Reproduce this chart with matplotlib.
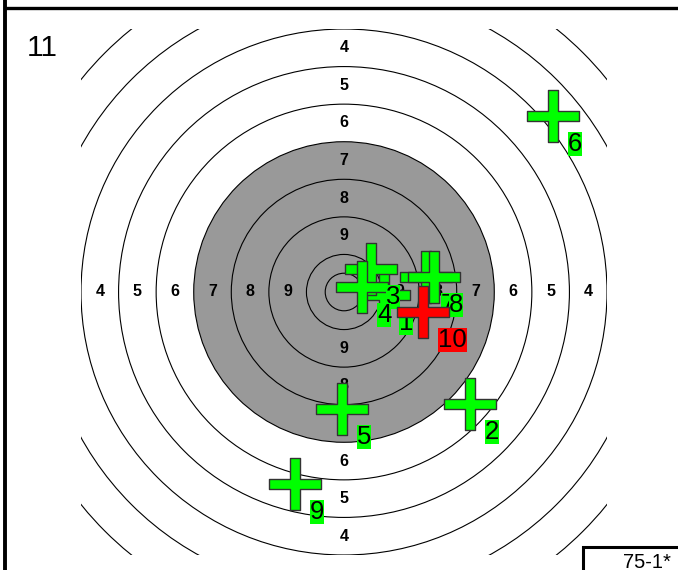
import matplotlib
matplotlib.use("Agg")
import matplotlib.pyplot as plt
from matplotlib.path import Path
from matplotlib.patches import Circle, Rectangle
from matplotlib.lines import Line2D

plt.rcParams['font.family'] = ['Liberation Sans', 'DejaVu Sans']

# ---------------- data ----------------
shot_ids = ["1", "2", "3", "4", "5", "6", "7", "8", "9", "10"]
shot_x = [1.07, 3.36, 0.73, 0.49, -0.05, 5.57, 2.19, 2.40, -1.30, 2.11]
shot_y = [-0.09, -2.98, 0.61, 0.13, -3.11, 4.68, 0.40, 0.40, -5.11, -0.53]
ring_values = [9, 8, 7, 6, 5, 4]
ring_radii = [0.5, 1, 2, 3, 4, 5, 6, 7, 8, 9]
black_radius = 4
series_label = "11"
target_code = "75-1*"

# ---------------- figure ----------------
W, H = 678, 570
fig = plt.figure(figsize=(W / 100, H / 100), dpi=100)
fig.patch.set_facecolor('white')

# axes square covering the outer ring-4 boundary
ax_l, ax_top, ax_size = 81, 29, 526
ax = fig.add_axes([ax_l / W, (H - ax_top - ax_size) / H, ax_size / W, ax_size / H])
ax.set_xlim(-7, 7)
ax.set_ylim(-7, 7)
ax.set_aspect('equal')
ax.axis('off')

# black (gray) area
ax.add_patch(Circle((0, 0), black_radius, facecolor='#999999', edgecolor='none', zorder=1))
for r in ring_radii:
    ax.add_patch(Circle((0, 0), r, facecolor='none', edgecolor='black', lw=0.8, zorder=2))

# ring labels on four sides
for k, v in enumerate(ring_values):
    r = k + 1.5
    for dx, dy in [(-1, 0), (1, 0), (0, 1), (0, -1)]:
        ax.text(dx * r, dy * r, str(v), ha='center', va='center', fontsize=11.5,
                fontweight='bold', color='black', zorder=3)

# plus-shaped marker
t = 0.173
plus_verts = [(-t, 1), (t, 1), (t, t), (1, t), (1, -t), (t, -t), (t, -1), (-t, -1),
              (-t, -t), (-1, -t), (-1, t), (-t, t), (-t, 1)]
plus_marker = Path(plus_verts, closed=True)

n = len(shot_ids)
for i, (sid, x, y) in enumerate(zip(shot_ids, shot_x, shot_y)):
    last = (i == n - 1)
    col = '#ff0000' if last else '#00ff00'
    zc = 8 if last else 5
    zl = 9 if last else 6
    ax.plot([x], [y], marker=plus_marker, markersize=37.5, markerfacecolor=col,
            markeredgecolor='#333333', markeredgewidth=1.0, linestyle='none', zorder=zc)
    ax.annotate(sid, (x, y), xytext=(10.5, -20), textcoords='offset points',
                ha='left', va='center', fontsize=18.5, color='black',
                bbox=dict(boxstyle='square,pad=0', facecolor=col, edgecolor='none'),
                zorder=zl)

# ---------------- frame decorations ----------------
fig.add_artist(Line2D([5 / W, 1], [1 - 7.5 / H, 1 - 7.5 / H], color='black', lw=2.4,
                      transform=fig.transFigure))
fig.add_artist(Line2D([5 / W, 5 / W], [0, 1], color='black', lw=2.8,
                      transform=fig.transFigure))
fig.add_artist(Rectangle((583 / W, -0.05), 0.2, (570 - 547) / H + 0.05, transform=fig.transFigure,
                         facecolor='white', edgecolor='black', lw=2.2))
fig.text(623 / W, 1 - 562 / H, target_code, ha='left', va='center', fontsize=14.5, color='black')
fig.text(27 / W, 1 - 48 / H, series_label, ha='left', va='center', fontsize=21.5, color='black')

fig.savefig('out.png', dpi=100)
